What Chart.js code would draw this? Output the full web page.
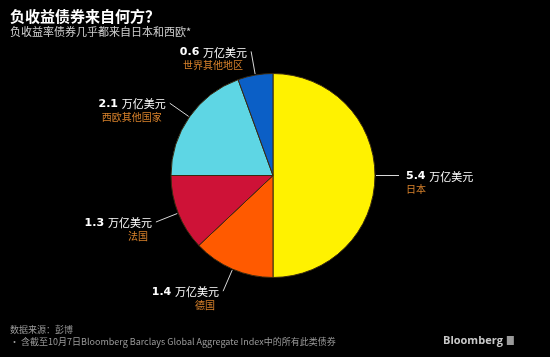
<!DOCTYPE html>
<html><head><meta charset="utf-8">
<script src="https://cdn.jsdelivr.net/npm/chart.js@4"></script>
<style>
html,body{margin:0;padding:0;background:#000;}
#wrap{position:relative;width:550px;height:357px;}
canvas{display:block;}
</style></head>
<body><div id="wrap"><canvas id="c" width="550" height="357"></canvas></div>
<script>
const title = '负收益债券来自何方？';
const subtitle = '负收益率债券几乎都来自日本和西欧*';
const categories = ['日本', '德国', '法国', '西欧其他国家', '世界其他地区'];
const values = [5.4, 1.4, 1.3, 2.1, 0.6];
const unit = '万亿美元';
const sliceColors = ['#FFF200', '#FF5A00', '#CE1237', '#5ED6E4', '#0B5FC6'];
const sourceNote = '数据来源：彭博';
const footNote = '• 含截至10月7日Bloomberg Barclays Global Aggregate Index中的所有此类债券';
const brand = 'Bloomberg';

const CJK = '"Noto Sans CJK SC", "Noto Sans", sans-serif';

const labelPlugin = {
  id: 'labels',
  afterDraw(chart) {
    const ctx = chart.ctx;
    const meta = chart.getDatasetMeta(0);
    ctx.save();
    // title & subtitle
    ctx.textBaseline = 'middle';
    ctx.textAlign = 'left';
    ctx.fillStyle = '#ffffff';
    ctx.font = 'bold 15px ' + CJK;
    ctx.fillText(title, 10, 16);
    ctx.fillStyle = '#d0d0d0';
    ctx.font = '11px ' + CJK;
    ctx.fillText(subtitle, 10, 32);

    // slice labels
    meta.data.forEach((arc, i) => {
      const p = arc.getProps(['x', 'y', 'startAngle', 'endAngle', 'outerRadius'], true);
      const mid = (p.startAngle + p.endAngle) / 2;
      const c = Math.cos(mid), s = Math.sin(mid);
      const r0 = p.outerRadius + 1, r1 = p.outerRadius + 24;
      const x0 = p.x + c * r0, y0 = p.y + s * r0;
      const x1 = p.x + c * r1, y1 = p.y + s * r1;
      ctx.strokeStyle = '#d8d8d8';
      ctx.lineWidth = 1;
      ctx.beginPath(); ctx.moveTo(x0, y0); ctx.lineTo(x1, y1); ctx.stroke();

      const right = c > 0.2;
      const numTxt = values[i].toFixed(1) + ' ';
      ctx.font = 'bold 11px "DejaVu Sans", sans-serif';
      const wNum = ctx.measureText(numTxt).width;
      ctx.font = '11px ' + CJK;
      const wUnit = ctx.measureText(unit).width;
      const total = wNum + wUnit;
      let tx, ty = y1 + 1;
      if (right) tx = x1 + 7; else tx = x1 - 4 - total;
      ctx.textAlign = 'left';
      ctx.fillStyle = '#ffffff';
      ctx.font = 'bold 11px "DejaVu Sans", sans-serif';
      ctx.fillText(numTxt, tx, ty);
      ctx.font = '11px ' + CJK;
      ctx.fillText(unit, tx + wNum, ty);
      ctx.fillStyle = '#D9822B';
      ctx.font = '10px ' + CJK;
      if (right) { ctx.textAlign = 'left'; ctx.fillText(categories[i], tx, ty + 13); }
      else { ctx.textAlign = 'right'; ctx.fillText(categories[i], tx + total - 4, ty + 13); }
    });

    // footer
    ctx.textAlign = 'left';
    ctx.fillStyle = '#9a9a9a';
    ctx.font = '9px ' + CJK;
    ctx.fillText(sourceNote, 10, 330);
    ctx.fillText(footNote, 10, 342);
    ctx.fillStyle = '#c8c8c8';
    ctx.font = 'bold 11px "Open Sans", "DejaVu Sans", sans-serif';
    ctx.fillText(brand, 443, 341);
    const bw = ctx.measureText(brand).width;
    ctx.fillStyle = '#9a9a9a';
    ctx.fillRect(443 + bw + 4, 336, 7, 9);
    ctx.restore();
  }
};

new Chart(document.getElementById('c'), {
  type: 'pie',
  data: {
    labels: categories,
    datasets: [{
      data: values,
      backgroundColor: sliceColors,
      borderColor: '#3a2a10',
      borderWidth: 1,
      hoverOffset: 0
    }]
  },
  options: {
    responsive: false,
    animation: false,
    events: [],
    layout: { padding: { top: 73, bottom: 79, left: 100, right: 104 } },
    plugins: { legend: { display: false }, tooltip: { enabled: false }, title: { display: false } }
  },
  plugins: [{
    id: 'bg',
    beforeDraw(chart) {
      const ctx = chart.ctx;
      ctx.save(); ctx.fillStyle = '#000'; ctx.fillRect(0, 0, chart.width, chart.height); ctx.restore();
    }
  }, labelPlugin]
});
</script>
</body></html>
